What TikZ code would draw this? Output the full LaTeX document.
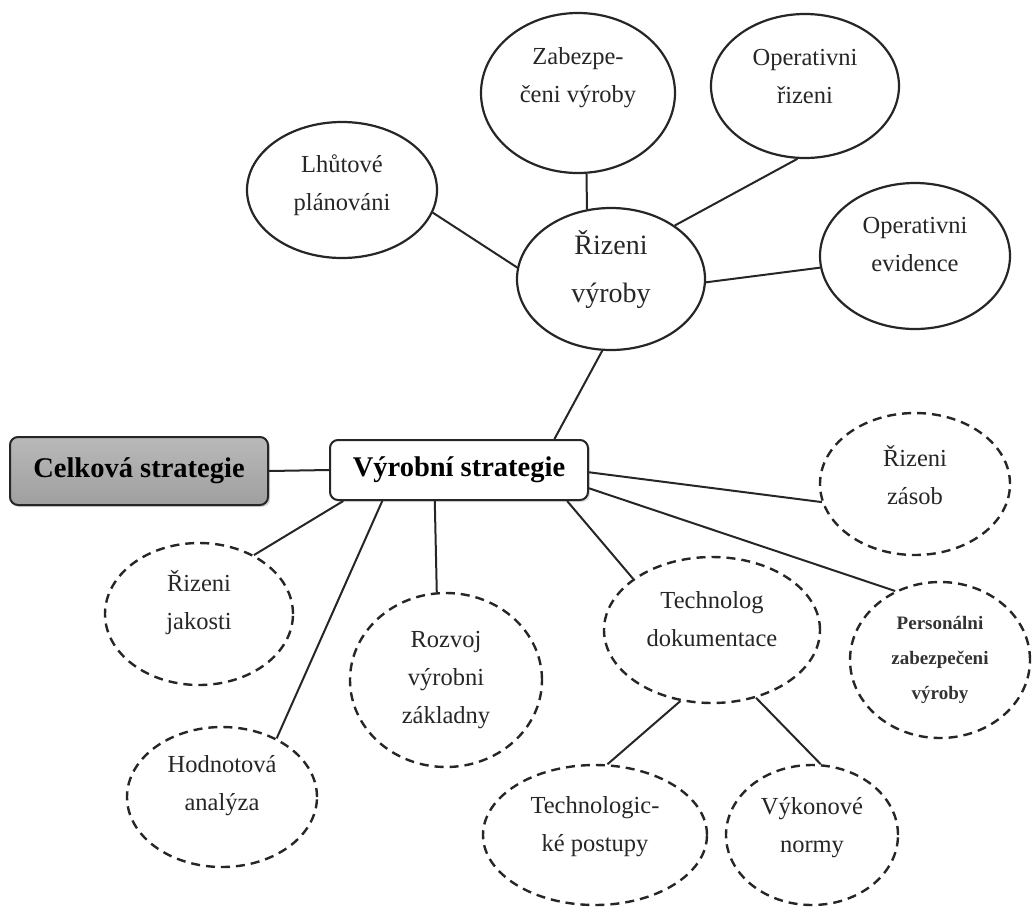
\documentclass[tikz,border=0pt]{standalone}
\usepackage{fontspec}
\setmainfont{Liberation Serif}
\usetikzlibrary{shapes.geometric,shadows}

\tikzset{
  ink/.style={draw=black!85},
  link/.style={ink, line width=2pt},
  solidell/.style={ellipse, ink, line width=2.2pt, fill=white, inner sep=0pt},
  dashell/.style={ellipse, ink, line width=2.4pt, dash pattern=on 9pt off 6pt, fill=white, inner sep=0pt},
  txt/.style={align=center, inner sep=0pt, font=\fontsize{24.5}{38}\selectfont, text=black!85},
  bigtxt/.style={align=center, inner sep=0pt, font=\fontsize{28}{48}\selectfont, text=black!85},
  smalltxt/.style={align=center, inner sep=0pt, font=\fontsize{19}{35}\selectfont\bfseries, text=black!80},
  boxbase/.style={rectangle, rounded corners=8pt, ink, line width=2pt, inner sep=0pt,
                  font=\fontsize{28.5}{30}\selectfont\bfseries, text=black},
}

\begin{document}
\begin{tikzpicture}[x=1pt, y=-1pt]
\useasboundingbox (0,0) rectangle (1033,908);

% --- strategy boxes ---
\node[boxbase, minimum width=258pt, minimum height=68pt,
      top color=gray!55, middle color=gray!25, bottom color=gray!75,
      drop shadow={shadow xshift=2pt, shadow yshift=-2pt, opacity=0.35}]
  (cel) at (139,471) {Celková strategie};
\node[boxbase, minimum width=258pt, minimum height=60pt, fill=white,
      drop shadow={shadow xshift=2pt, shadow yshift=-2pt, opacity=0.25}]
  (vyr) at (459,470) {Výrobní strategie};

% --- production management branch (solid ellipses) ---
\node[solidell, minimum width=188pt, minimum height=142pt] (riz) at (611,279) {};
\node[solidell, minimum width=194pt, minimum height=160pt] (zab) at (578,93) {};
\node[solidell, minimum width=188pt, minimum height=144pt] (opr) at (805,86) {};
\node[solidell, minimum width=190pt, minimum height=146pt] (ope) at (915,256) {};
\node[solidell, minimum width=190pt, minimum height=136pt] (lhu) at (342,190) {};

% --- dashed ellipses ---
\node[dashell, minimum width=190pt, minimum height=142pt] (zas) at (915,484) {};
\node[dashell, minimum width=180pt, minimum height=156pt] (per) at (940,660) {};
\node[dashell, minimum width=216pt, minimum height=146pt] (tdo) at (712,630) {};
\node[dashell, minimum width=224pt, minimum height=140pt] (tpo) at (595,835) {};
\node[dashell, minimum width=172pt, minimum height=140pt] (vyk) at (812,835) {};
\node[dashell, minimum width=188pt, minimum height=142pt] (jak) at (199,614) {};
\node[dashell, minimum width=190pt, minimum height=140pt] (hod) at (222,797) {};
\node[dashell, minimum width=192pt, minimum height=174pt] (roz) at (446,680) {};

% --- connectors ---
\draw[link] (cel.east) -- (vyr.west);
\draw[link] (vyr.18) -- (riz.-97);
\draw[link] (riz.173) -- (lhu.-14);
\draw[link] (riz.109) -- (zab.-84);
\draw[link] (riz.40) -- (opr.-96);
\draw[link] (riz.-2.4) -- (ope.-173);
\draw[link] (vyr.-1.5) -- (zas.-169);
\draw[link] (vyr.-8.8) -- (per.123.5);
\draw[link] (vyr.-16.5) -- (tdo.147);
\draw[link] (vyr.195.4) -- (jak.47);
\draw[link] (vyr.202.1) -- (hod.47);
\draw[link] (vyr.232.5) -- (roz.96.6);
\draw[link] (tdo.-114.6) -- (tpo.80.3);
\draw[link] (tdo.-57.3) -- (vyk.83.5);

% --- labels ---
\node[bigtxt] (riz-t) at ([yshift=10pt]riz.center) {Řizeni\\výroby};
\node[txt] (zab-t) at ([yshift=15pt]zab.center) {Zabezpe-\\čeni výroby};
\node[txt] (opr-t) at ([yshift=9pt]opr.center) {Operativni\\řizeni};
\node[txt] (ope-t) at ([yshift=11pt]ope.center) {Operativni\\evidence};
\node[txt] (lhu-t) at ([yshift=5pt]lhu.center) {Lhůtové\\plánováni};
\node[txt] (zas-t) at ([yshift=9pt]zas.center) {Řizeni\\zásob};
\node[smalltxt] (per-t) at (per.center) {Personálni\\zabezpečeni\\výroby};
\node[txt] (tdo-t) at ([yshift=11pt]tdo.center) {Technolog\\dokumentace};
\node[txt] (tpo-t) at ([yshift=8pt]tpo.center) {Technologic-\\ké postupy};
\node[txt] (vyk-t) at ([yshift=7pt]vyk.center) {Výkonové\\normy};
\node[txt] (jak-t) at ([yshift=11pt]jak.center) {Řizeni\\jakosti};
\node[txt] (roz-t) at (roz.center) {Rozvoj\\výrobni\\základny};
\node[txt] (hod-t) at ([yshift=11pt]hod.center) {Hodnotová\\analýza};
\end{tikzpicture}
\end{document}
